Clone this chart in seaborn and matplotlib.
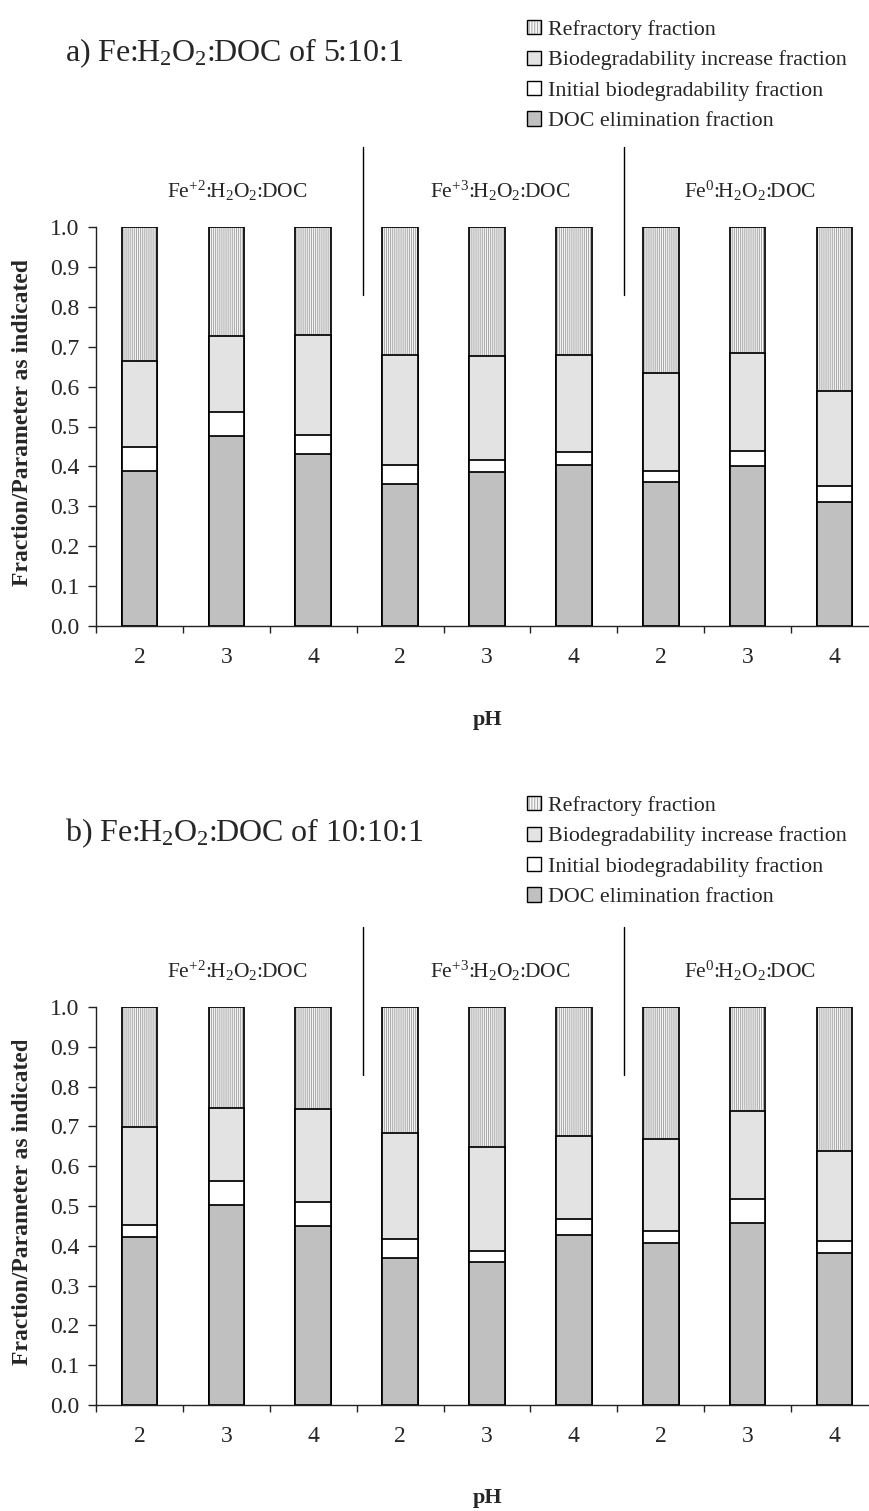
import numpy as np
import pandas as pd
import matplotlib
matplotlib.use("Agg")
import matplotlib.pyplot as plt
import matplotlib.transforms as mtransforms
import seaborn as sns
from matplotlib.patches import Patch, Rectangle
from matplotlib.ticker import FixedLocator, FormatStrFormatter

sns.set_theme(style="ticks")
plt.rcParams["font.family"] = ["Liberation Serif", "DejaVu Serif"]
plt.rcParams["mathtext.fontset"] = "custom"
plt.rcParams["mathtext.rm"] = "Liberation Serif"
plt.rcParams["mathtext.it"] = "Liberation Serif:italic"
plt.rcParams["mathtext.bf"] = "Liberation Serif:bold"
plt.rcParams["hatch.linewidth"] = 0.7

# ---- data -------------------------------------------------------------
iron_species = ["Fe(II)", "Fe(III)", "Fe(0)"]
ph_values = ["2", "3", "4"]

# a) Fe:H2O2:DOC = 5:10:1
a_doc_elimination = [0.389, 0.475, 0.431, 0.356, 0.385, 0.404, 0.360, 0.402, 0.310]
a_initial_bio = [0.060, 0.061, 0.048, 0.048, 0.030, 0.031, 0.029, 0.036, 0.041]
a_bio_increase = [0.215, 0.190, 0.250, 0.276, 0.261, 0.245, 0.245, 0.246, 0.238]
a_refractory = [0.336, 0.274, 0.271, 0.320, 0.324, 0.320, 0.366, 0.316, 0.411]

# b) Fe:H2O2:DOC = 10:10:1
b_doc_elimination = [0.422, 0.502, 0.449, 0.370, 0.360, 0.427, 0.407, 0.457, 0.381]
b_initial_bio = [0.031, 0.060, 0.060, 0.048, 0.028, 0.041, 0.030, 0.060, 0.030]
b_bio_increase = [0.245, 0.185, 0.235, 0.265, 0.261, 0.208, 0.231, 0.221, 0.228]
b_refractory = [0.302, 0.253, 0.256, 0.317, 0.351, 0.324, 0.332, 0.262, 0.361]

group_labels = [r"Fe$^{+2}$:H$_2$O$_2$:DOC", r"Fe$^{+3}$:H$_2$O$_2$:DOC", r"Fe$^{0}$:H$_2$O$_2$:DOC"]
panel_titles = [r"a) Fe:H$_2$O$_2$:DOC of 5:10:1", r"b) Fe:H$_2$O$_2$:DOC of 10:10:1"]
legend_labels = ["Refractory fraction", "Biodegradability increase fraction",
                 "Initial biodegradability fraction", "DOC elimination fraction"]

# ---- styling ------------------------------------------------------------
C_DOC = "#c0c0c0"
C_INIT = "#ffffff"
C_BIO = "#e3e3e3"
C_REF_FACE = "#f6f6f6"
C_REF_HATCH = "#a6a6a6"
REF_HATCH = "||||||||"
BAR_W = 0.41
EDGE_LW = 1.25

W, H = 869, 1511
fig = plt.figure(figsize=(W / 100, H / 100), dpi=100)


def fx(px):
    return px / W


def fy(py):
    return 1 - py / H


conditions = [f"{sp} pH {p}" for sp in iron_species for p in ph_values]
tick_text = [p for sp in iron_species for p in ph_values]


def draw_panel(ax, doc, init, bio, ref):
    doc = np.asarray(doc)
    init = np.asarray(init)
    bio = np.asarray(bio)
    ref = np.asarray(ref)
    df = pd.DataFrame({
        "condition": conditions,
        "top_doc": doc,
        "top_init": doc + init,
        "top_bio": doc + init + bio,
        "top_ref": doc + init + bio + ref,
    })
    common = dict(data=df, x="condition", order=conditions, width=BAR_W,
                  errorbar=None, saturation=1, ax=ax)
    # refractory layer: fine vertical hatch, then a black outline
    sns.barplot(y="top_ref", color=C_REF_FACE, edgecolor=C_REF_HATCH,
                linewidth=0, hatch=REF_HATCH, **common)
    sns.barplot(y="top_ref", fill=False, color="black", linewidth=EDGE_LW, **common)
    sns.barplot(y="top_bio", color=C_BIO, edgecolor="black", linewidth=EDGE_LW, **common)
    sns.barplot(y="top_init", color=C_INIT, edgecolor="black", linewidth=EDGE_LW, **common)
    sns.barplot(y="top_doc", color=C_DOC, edgecolor="black", linewidth=EDGE_LW, **common)

    ax.set_xlim(-0.5, len(conditions) - 0.5)
    ax.set_ylim(0, 1.0)
    ax.set_xlabel("")
    ax.set_ylabel("")
    sns.despine(ax=ax)
    for s in ("left", "bottom"):
        ax.spines[s].set_linewidth(1.0)
        ax.spines[s].set_color("#222222")

    ax.set_xticks(range(len(conditions)))
    ax.set_xticklabels(tick_text, fontsize=17)
    ax.xaxis.set_minor_locator(FixedLocator(np.arange(-0.5, len(conditions), 1.0)))
    ax.tick_params(axis="x", which="major", length=0, pad=15)
    ax.tick_params(axis="x", which="minor", length=5.2, width=1.0, direction="out", color="#222222")
    ax.set_yticks(np.arange(0, 1.01, 0.1))
    ax.yaxis.set_major_formatter(FormatStrFormatter("%.1f"))
    ax.tick_params(axis="y", length=6, width=1.0, direction="out", labelsize=17, pad=6,
                   color="#222222")

    # separators between iron species and their group headings
    for xs in (2.57, 5.58):
        ax.plot([xs, xs], [0.83, 1.2], color="black", lw=1.0, clip_on=False)
    for xg, lab in zip((1.13, 4.15, 7.03), group_labels):
        ax.text(xg, 1.09, lab, ha="center", va="center", fontsize=15.5, clip_on=False)


def legend_handles():
    ref = (Patch(facecolor=C_REF_FACE, edgecolor=C_REF_HATCH, hatch="||||||", linewidth=0),
           Patch(facecolor="none", edgecolor="black", linewidth=1.0))
    bio = Patch(facecolor=C_BIO, edgecolor="black", linewidth=1.0)
    ini = Patch(facecolor=C_INIT, edgecolor="black", linewidth=1.0)
    doc = Patch(facecolor=C_DOC, edgecolor="black", linewidth=1.0)
    return [ref, bio, ini, doc]


panels = [
    dict(rect=[fx(96), fy(626), fx(878) - fx(96), (626 - 227) / H],
         data=(a_doc_elimination, a_initial_bio, a_bio_increase, a_refractory),
         title_y=53, legend_top=20, ylabel_y=(0.10, 0.915), ph_y=720),
    dict(rect=[fx(96), fy(1405), fx(878) - fx(96), (1405 - 1007) / H],
         data=(b_doc_elimination, b_initial_bio, b_bio_increase, b_refractory),
         title_y=833, legend_top=796, ylabel_y=(0.10, 0.915), ph_y=1498),
]

for p, title in zip(panels, panel_titles):
    ax = fig.add_axes(p["rect"])
    draw_panel(ax, *p["data"])

    fig.text(fx(65), fy(p["title_y"]), title, ha="left", va="center", fontsize=23)

    fig.legend(legend_handles(), legend_labels, loc="upper left",
               bbox_to_anchor=(fx(527), fy(p["legend_top"])), frameon=False,
               fontsize=15.8, handlelength=0.62, handleheight=0.62, handletextpad=0.35,
               labelspacing=0.48, borderpad=0, borderaxespad=0)

    # rotated axis title, trimmed at the top like a fixed-size label box
    y0, y1 = p["ylabel_y"]
    trans = mtransforms.blended_transform_factory(fig.transFigure, ax.transAxes)
    lab = ax.text(fx(23), y0, "Fraction/Parameter as indicated", rotation=90,
                  ha="center", va="bottom", fontsize=17, fontweight="bold",
                  transform=trans)
    clip = Rectangle((0, y0 - 0.2), 0.2, (y1 - y0) + 0.2, transform=trans)
    lab.set_clip_path(clip)
    lab.set_clip_on(True)

    fig.text(fx(488), fy(p["ph_y"]), "pH", ha="center", va="center",
             fontsize=16, fontweight="bold")

fig.savefig("out.png", dpi=100, facecolor="white")
